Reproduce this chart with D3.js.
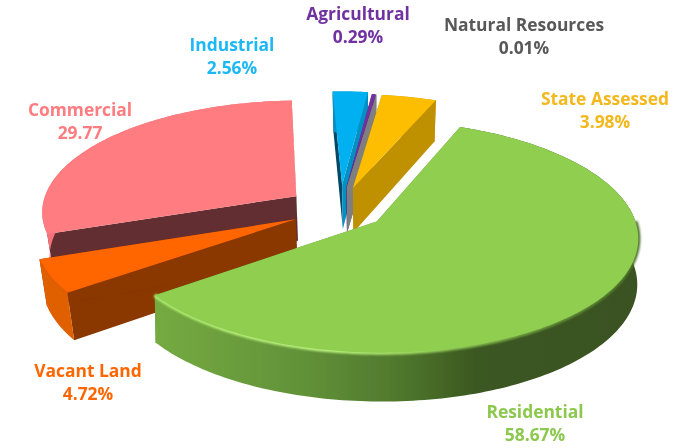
<!DOCTYPE html>
<html>
<head>
<meta charset="utf-8">
<script src="https://cdn.jsdelivr.net/npm/d3@7"></script>
<style>
body { margin: 0; background: #fff; }
text { font-family: "Open Sans", sans-serif; font-weight: 700; font-size: 17.4px; text-anchor: middle; }
</style>
</head>
<body>
<div id="chart"></div>
<script>
// order of the slices, clockwise
var categories = ["Residential", "Vacant Land", "Commercial", "Industrial", "Agricultural", "Natural Resources", "State Assessed"];
var values = [58.67, 4.72, 29.77, 2.56, 0.29, 0.01, 3.98];
var valueLabels = ["58.67%", "4.72%", "29.77", "2.56%", "0.29%", "0.01%", "3.98%"];
var explodes = [0.18, 0.195, 0.21, 0.225, 0.2, 0.2, 0.2];
var tapers = [0.004, 0.022, 0.022, 0.022, 0.022, 0.022, 0.022];

var topColors = ["#8fce50", "#ff6600", "#ff7c80", "#00b0f0", "#7030a0", "#7f7f7f", "#fdbd00"];
var wallColors = ["url(#greenWall)", "#e06000", "#f57378", "#0090c4", "#5a2680", "#7f7f7f", "#bf9000"];
var startFaceColors = ["#5e8c35", "#8a3700", "#632e31", "#004a66", "#5a2680", "#7f7f7f", "#bf9000"];
var endFaceColors = ["#5e8c35", "#8a3700", "#632e31", "#0090c4", "#5a2680", "#7f7f7f", "#bf9000"];
var textColors = ["#8cc84e", "#ff6600", "#ff7c80", "#1eb8f5", "#7030a0", "#595959", "#f2b81e"];

// label centres, [x, first line baseline]
var labelAt = [[535, 418], [88, 377], [80, 116], [232, 51], [358, 20], [524, 31], [605, 105]];
var drawOrder = [2, 1, 3, 4, 5, 6, 0];

var w = 673, h = 448;
var cx = 340, cy = 209;
var Rx = 255, Ry = 111;
var persp = 0.128;
var rotation = 22.2 * Math.PI / 180;

var svg = d3.select("#chart").append("svg")
    .attr("width", w)
    .attr("height", h)
    .style("display", "block");

var defs = svg.append("defs");

defs.append("filter").attr("id", "soft")
    .append("feGaussianBlur").attr("stdDeviation", 0.45);
defs.append("filter").attr("id", "rimBlur")
    .attr("x", "-5%").attr("y", "-20%").attr("width", "110%").attr("height", "140%")
    .append("feGaussianBlur").attr("stdDeviation", 1);

function gradient(id, stops) {
    var g = defs.append("linearGradient").attr("id", id)
        .attr("gradientUnits", "userSpaceOnUse")
        .attr("x1", 157).attr("x2", 640).attr("y1", 0).attr("y2", 0);
    stops.forEach(function(s) {
        g.append("stop").attr("offset", s[0]).attr("stop-color", s[1]);
    });
}
gradient("greenWall", [[0, "#74aa40"], [0.3, "#629239"], [0.5, "#50782d"], [0.66, "#3b5820"], [1, "#3a5220"]]);
gradient("greenRim", [[0, "#b0ec70"], [0.35, "#bcf480"], [0.55, "#9cd85e"], [0.75, "#72a440"], [0.95, "#55802f"], [1, "#4a6c28"]]);

var x = d3.scaleLinear().domain([-1, 1]).range([cx - Rx, cx + Rx]);
var y = d3.scaleLinear().domain([-1, 1]).range([cy - Ry, cy + Ry]);

var slices = d3.pie().sort(null)
    .startAngle(rotation)
    .endAngle(rotation + 2 * Math.PI)(values);

// point of a slice on the exploded disc, level 0 is the top face, 1 the bottom
function project(d, angle, r, level) {
    var mid = (d.startAngle + d.endAngle) / 2;
    var e = explodes[d.index];
    var dx = e * Math.sin(mid) + r * Math.sin(angle);
    var dy = -e * Math.cos(mid) - r * Math.cos(angle);
    var p = 1 / (1 - persp * dy);
    var sx = cx + (x(dx) - cx) * p;
    var sy = cy + (y(dy) - cy) * p;
    if (level) {
        sx += (375 - sx) * tapers[d.index];
        sy += 45 + 3.5 * dy;
    }
    return [sx, sy];
}

function rim(d, level, from, to) {
    var n = Math.max(2, Math.ceil((to - from) / 0.02));
    return d3.range(n + 1).map(function(i) {
        return project(d, from + (to - from) * i / n, 1, level);
    });
}

var line = d3.line();
function shape(pts) { return line(pts) + "Z"; }
var body = svg.append("g").attr("filter", "url(#soft)");

drawOrder.forEach(function(i) {
    var d = slices[i];
    var a0 = d.startAngle, a1 = d.endAngle;
    var g = body.append("g");

    g.append("path")
        .attr("d", shape([project(d, a0, 0, 0), project(d, a0, 1, 0), project(d, a0, 1, 1), project(d, a0, 0, 1)]))
        .attr("fill", startFaceColors[i]);
    g.append("path")
        .attr("d", shape([project(d, a1, 0, 0), project(d, a1, 1, 0), project(d, a1, 1, 1), project(d, a1, 0, 1)]))
        .attr("fill", endFaceColors[i]);
    g.append("path")
        .attr("d", shape(rim(d, 0, a0, a1).concat(rim(d, 1, a0, a1).reverse())))
        .attr("fill", wallColors[i]);
    if (i === 0) {
        // lit edge along the near side of the big slice
        g.append("path")
            .attr("d", line(rim(d, 0, Math.PI / 2, a1)))
            .attr("fill", "none")
            .attr("stroke", "url(#greenRim)")
            .attr("stroke-width", 4)
            .attr("filter", "url(#rimBlur)");
    }
    g.append("path")
        .attr("d", shape([project(d, a0, 0, 0)].concat(rim(d, 0, a0, a1))))
        .attr("fill", topColors[i]);
});

var labels = svg.append("g").attr("filter", "url(#soft)");
categories.forEach(function(name, i) {
    labels.append("text").attr("x", labelAt[i][0]).attr("y", labelAt[i][1])
        .attr("fill", textColors[i]).text(name);
    labels.append("text").attr("x", labelAt[i][0]).attr("y", labelAt[i][1] + 23)
        .attr("fill", textColors[i]).text(valueLabels[i]);
});
</script>
</body>
</html>
